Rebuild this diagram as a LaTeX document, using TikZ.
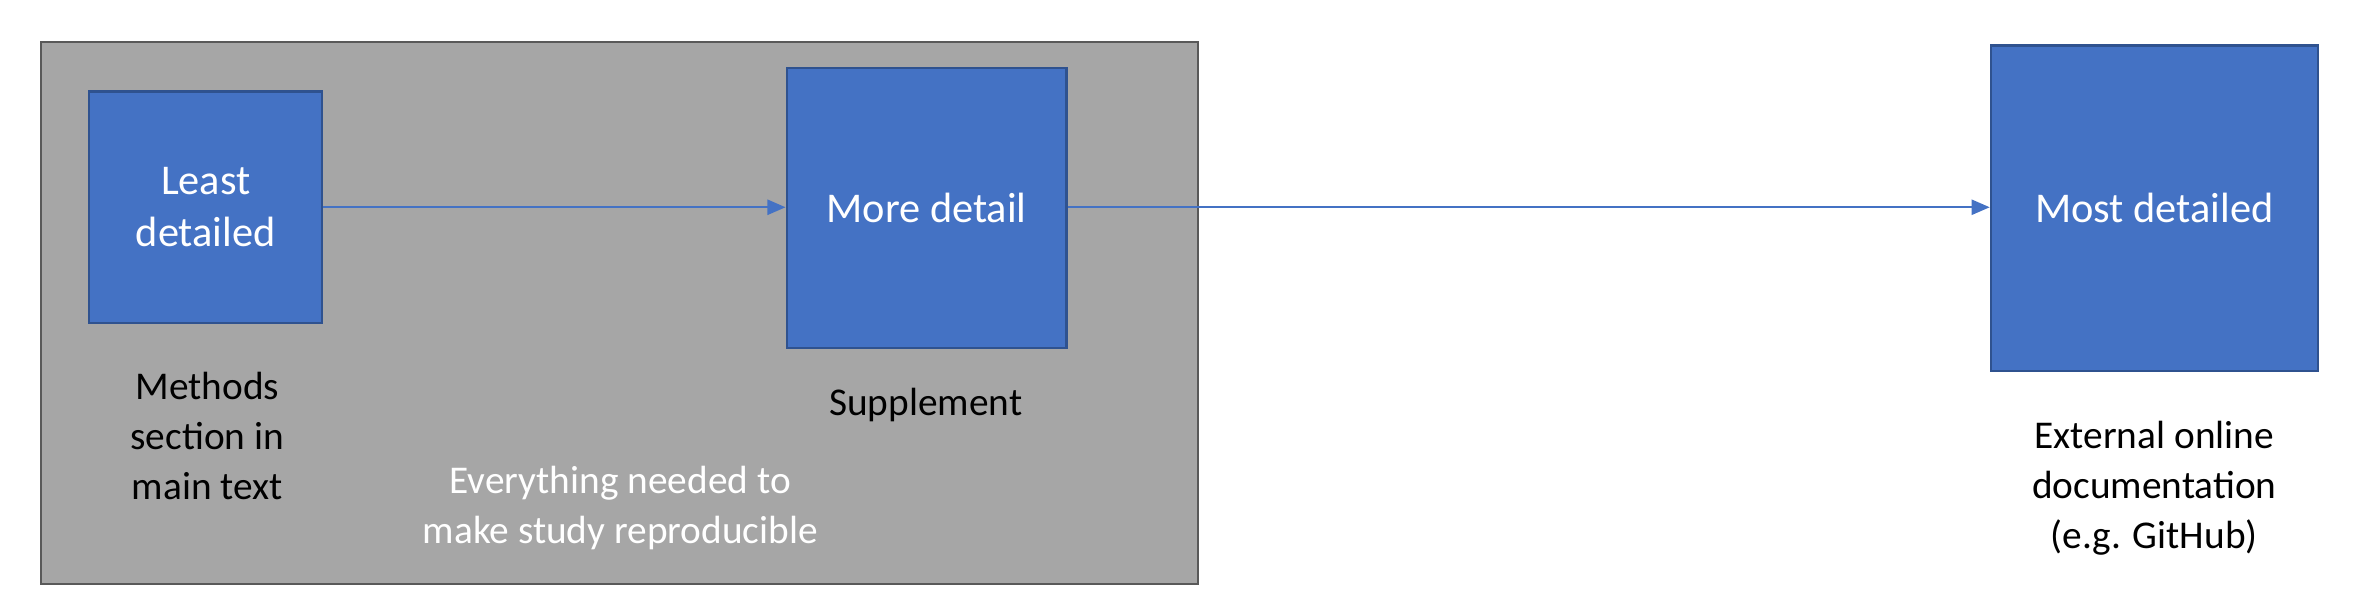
\documentclass[tikz,border=0pt]{standalone}
\usepackage{fontspec}
\setmainfont{Carlito}
\usetikzlibrary{arrows.meta}
\definecolor{boxblue}{HTML}{4472C4}
\definecolor{boxedge}{HTML}{2F528F}
\definecolor{panelgray}{HTML}{A6A6A6}
\tikzset{every picture/.style={line width=0.75pt}}
\tikzset{
  levelbox/.style={draw=boxedge,fill=boxblue,text=white,align=center,font=\fontsize{14}{17}\selectfont},
  caption/.style={align=center,font=\fontsize{13}{16.5}\selectfont},
  flow/.style={draw=boxblue,-{Triangle[length=6pt,width=5pt]}}
}
\begin{document}
\begin{tikzpicture}[x=0.5pt,y=0.5pt,yscale=-1,xscale=1]
	\useasboundingbox (0,0) rectangle (1560,407);
	
	%Shape: Rectangle [id:panel]
	\draw [draw=gray!70!black,fill=panelgray]  (27,28) rectangle (792,386) ;
	
	%Boxes
	\node [levelbox,minimum width=77pt,minimum height=76.5pt] (least) at (136,137) {Least\\detailed};
	\node [levelbox,minimum width=92.5pt,minimum height=92.5pt] (more) at (612.5,137.5) {More detail};
	\node [levelbox,minimum width=108pt,minimum height=107.5pt] (most) at (1424,137.5) {Most detailed};
	
	%Arrows
	\draw [flow] (least.east) -- (more.west |- least.east) ;
	\draw [flow] (more.east |- least.east) -- (most.west |- least.east) ;
	
	%Captions
	\node [caption] (methods) at (137,288) {Methods\\section in\\main text};
	\node [caption] (supp) at (612,268) {Supplement};
	\node [caption,text=white] (repro) at (410,336) {Everything needed to\\make study reproducible};
	\node [caption] (external) at (1424,323) {External online\\documentation\\(e.g. GitHub)};
	
\end{tikzpicture}
\end{document}
